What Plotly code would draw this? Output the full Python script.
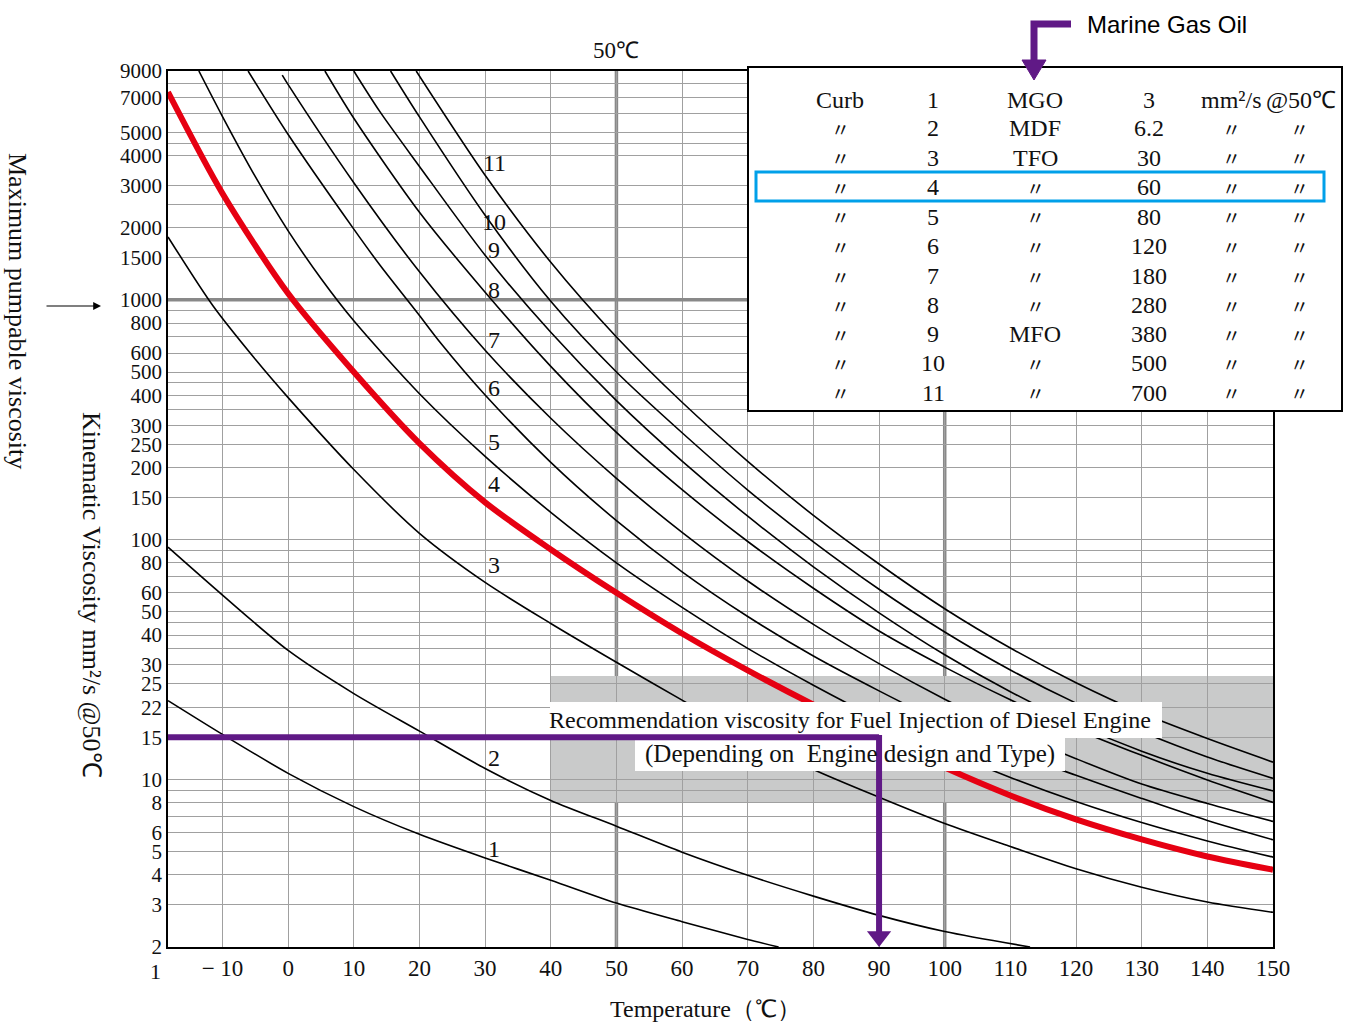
import plotly.graph_objects as go
import math

# ---------------- data ----------------
# temperature (deg C) / kinematic viscosity (mm2/s) pairs for each curve
curve1_t = [-18.3, -10, 0, 10, 20, 30, 40, 50, 60, 70, 74.7]
curve1_v = [21.3, 15.4, 10.6, 7.7, 5.9, 4.7, 3.8, 3.05, 2.55, 2.15, 2.0]

curve2_t = [-18.3, -10, 0, 10, 20, 30, 40, 50, 60, 70, 80, 90, 100, 113]
curve2_v = [93, 58.7, 34.5, 22.8, 15.9, 11.1, 8.17, 6.38, 4.97, 3.98, 3.26, 2.71, 2.32, 2.0]

curve3_t = [-18.3, -11.4, -5, 0, 10, 20, 30, 40, 50, 60, 70, 80, 90, 100, 110,
            120, 130, 140, 150]
curve3_v = [1830, 940, 565, 391, 196, 106.2, 66.3, 44.7, 30.8, 21.4, 15, 11, 8.43,
            6.55, 5.25, 4.24, 3.55, 3.08, 2.79]

curve4_t = [-18.3, -10, 0, 10, 20, 30, 40, 50, 60, 70, 80, 90, 100, 110, 120, 130, 140, 150]
curve4_v = [7350, 2776, 1062, 500, 252, 143, 91, 60, 40.6, 28.5, 20.5, 15.1, 11.2, 8.57,
            6.81, 5.62, 4.77, 4.2]

curve5_t = [-13.6, -10, -5, 0, 5, 10, 20, 30, 40, 50, 60, 70, 80, 90, 100, 110, 120, 130,
            140, 150]
curve5_v = [9000, 5810, 3262, 1940, 1227, 817, 406, 222.4, 129.9, 80, 52.2, 35.2, 24.7, 17.8,
            13.2, 10.19, 8.09, 6.61, 5.54, 4.74]

curve6_t = [-6.1, 0, 10, 14, 20, 23.1, 30, 40, 50, 60, 70, 80, 90, 100, 110, 120, 130, 140, 150]
curve6_v = [9000, 4890, 1971, 1393, 860, 667, 401, 210, 120, 73.4, 47.8, 32.7, 23.4, 17.1,
            13.1, 10.4, 8.33, 6.74, 5.6]

curve7_t = [-0.9, 0, 10, 20, 30, 40, 50, 60, 70, 80, 90, 100, 110, 120, 130, 140, 150]
curve7_v = [8650, 7894, 3078, 1308, 616, 320.6, 180, 107.2, 67.2, 44.3, 30.4, 21.6, 15.9,
            12.2, 9.56, 7.94, 6.68]

curve8_t = [5.6, 10, 20, 30, 40, 50, 60, 70, 80, 90, 100, 110, 120, 130, 140, 150]
curve8_v = [9000, 5720, 2319, 1076, 528, 280, 161.6, 98.2, 62.7, 41.6, 29.4, 21.5, 16.2, 12.6,
            9.95, 8.02]

curve9_t = [10, 14, 20, 30, 40, 50, 60, 70, 80, 90, 100, 110, 120, 130, 140, 150]
curve9_v = [9000, 6076, 3600, 1534, 732, 380, 212.6, 125.2, 77, 49.5, 33.1, 23.2, 17.0, 13.1,
            10.6, 8.95]

curve10_t = [15.6, 20, 30, 40, 50, 60, 70, 80, 90, 100, 110, 120, 130, 140, 150]
curve10_v = [9000, 5792, 2252, 986, 500, 279, 161, 97.9, 62.1, 41.2, 28.6, 20.8, 15.8, 12.4,
             10.1]

curve11_t = [19.5, 30, 40, 50, 60, 70, 80, 90, 100, 110, 120, 130, 140, 150]
curve11_v = [9000, 3309, 1434, 700, 373.8, 212, 126.2, 79.1, 51.5, 35.3, 25.3, 18.9, 14.8, 11.8]

# curve number labels (placed at about 31 deg C)
curve_label_names = ["1", "2", "3", "4", "5", "6", "7", "8", "9", "10", "11"]
curve_label_t = 31.4
curve_label_v = [5.15, 12.3, 78, 170, 255, 428, 678, 1096, 1610, 2107, 3712]

# legend table
table_curve_no = ["1", "2", "3", "4", "5", "6", "7", "8", "9", "10", "11"]
table_fuel = ["MGO", "MDF", "TFO", "〃", "〃", "〃", "〃", "〃", "MFO", "〃", "〃"]
table_visc50 = ["3", "6.2", "30", "60", "80", "120", "180", "280", "380", "500", "700"]

# axis ticks
x_ticks = [-10, 0, 10, 20, 30, 40, 50, 60, 70, 80, 90, 100, 110, 120, 130, 140, 150]
x_ticktext = ["− 10"] + [str(v) for v in x_ticks[1:]]
y_grid = [2, 3, 4, 5, 6, 7, 8, 9, 10, 15, 20, 25, 30, 35, 40, 45, 50, 60, 70, 80, 90, 100,
          150, 200, 250, 300, 350, 400, 450, 500, 600, 700, 800, 900, 1000, 1500, 2000, 2500,
          3000, 4000, 4500, 5000, 6000, 7000, 8000, 9000]
y_labels = {2: "2", 3: "3", 4: "4", 5: "5", 6: "6", 8: "8", 10: "10", 15: "15", 20: "22",
            25: "25", 30: "30", 40: "40", 50: "50", 60: "60", 80: "80", 100: "100",
            150: "150", 200: "200", 250: "250", 300: "300", 400: "400", 500: "500",
            600: "600", 800: "800", 1000: "1000", 1500: "1500", 2000: "2000", 3000: "3000",
            4000: "4000", 5000: "5000", 7000: "7000", 9000: "9000"}

# reference values
max_pumpable = 1000
recommended_visc = 15
injection_temp = 90
rec_band_low, rec_band_high = 8, 27
rec_band_t0, rec_band_t1 = 40, 150
x_min, x_max = -18.3, 150
y_min, y_max = 2, 9000

# ---------------- layout helpers ----------------
W, H = 1348, 1025
ML, MR, MT, MB = 168, 75, 71, 78
PW, PH = W - ML - MR, H - MT - MB


def pxx(xp):
    return (xp - ML) / PW


def pxy(yp):
    return (H - MB - yp) / PH


SERIF = "Liberation Serif, Times New Roman, serif"
SANS = "Liberation Sans, Arial, sans-serif"
PURPLE = "#601986"
RED = "#e60012"
BLUE = "#00a0e9"
TXT = "#111111"

fig = go.Figure()

black_curves = [(curve1_t, curve1_v), (curve2_t, curve2_v), (curve3_t, curve3_v),
                (curve5_t, curve5_v), (curve6_t, curve6_v), (curve7_t, curve7_v),
                (curve8_t, curve8_v), (curve9_t, curve9_v), (curve10_t, curve10_v),
                (curve11_t, curve11_v)]
for t, v in black_curves:
    fig.add_trace(go.Scatter(x=t, y=v, mode="lines",
                             line=dict(color="black", width=1.6, shape="spline", smoothing=0.8),
                             hoverinfo="skip", showlegend=False))
fig.add_trace(go.Scatter(x=curve4_t, y=curve4_v, mode="lines",
                         line=dict(color=RED, width=6, shape="spline", smoothing=0.8),
                         hoverinfo="skip", showlegend=False))
# arrow head of recommended-temperature line
fig.add_trace(go.Scatter(x=[injection_temp], y=[2.21], mode="markers",
                         marker=dict(symbol="triangle-down", size=21, color=PURPLE),
                         cliponaxis=False, hoverinfo="skip", showlegend=False))

shapes = []
# recommendation band
shapes.append(dict(type="rect", xref="x", yref="y", x0=rec_band_t0, x1=rec_band_t1,
                   y0=rec_band_low, y1=rec_band_high, fillcolor="#c9caca",
                   line=dict(width=0), layer="below"))
# thick reference lines
for tx in (50, 100):
    shapes.append(dict(type="line", xref="x", yref="paper", x0=tx, x1=tx, y0=0, y1=1,
                       line=dict(color="#898989", width=3.5), layer="between"))
shapes.append(dict(type="line", xref="x", yref="y", x0=x_min, x1=x_max, y0=max_pumpable,
                   y1=max_pumpable, line=dict(color="#898989", width=3.5), layer="between"))
# white boxes behind recommendation text
shapes.append(dict(type="rect", xref="paper", yref="paper", x0=pxx(550), x1=pxx(1162),
                   y0=pxy(738), y1=pxy(702), fillcolor="white", line=dict(width=0),
                   layer="above"))
shapes.append(dict(type="rect", xref="paper", yref="paper", x0=pxx(635), x1=pxx(1065),
                   y0=pxy(771), y1=pxy(738), fillcolor="white", line=dict(width=0),
                   layer="above"))
# purple recommendation lines
shapes.append(dict(type="line", xref="x", yref="y", x0=x_min, x1=injection_temp,
                   y0=recommended_visc, y1=recommended_visc,
                   line=dict(color=PURPLE, width=6), layer="above"))
shapes.append(dict(type="line", xref="x", yref="y", x0=injection_temp, x1=injection_temp,
                   y0=recommended_visc * 1.02, y1=2.3,
                   line=dict(color=PURPLE, width=6), layer="above"))
# legend table box
shapes.append(dict(type="rect", xref="paper", yref="paper", x0=pxx(748), x1=pxx(1342),
                   y0=pxy(411), y1=pxy(67), fillcolor="white",
                   line=dict(color="black", width=2), layer="above"))
shapes.append(dict(type="rect", xref="paper", yref="paper", x0=pxx(756), x1=pxx(1324),
                   y0=pxy(201), y1=pxy(172), fillcolor="rgba(0,0,0,0)",
                   line=dict(color=BLUE, width=3), layer="above"))
# Marine Gas Oil arrow
shapes.append(dict(type="path", xref="paper", yref="paper",
                   path=f"M {pxx(1071)} {pxy(24)} L {pxx(1034)} {pxy(24)} L {pxx(1034)} {pxy(63)}",
                   line=dict(color=PURPLE, width=7), layer="above"))
shapes.append(dict(type="path", xref="paper", yref="paper",
                   path=f"M {pxx(1022)} {pxy(60)} L {pxx(1046)} {pxy(60)} L {pxx(1034)} {pxy(80)} Z",
                   fillcolor=PURPLE, line=dict(color=PURPLE, width=1), layer="above"))

ann = []


def note(x, y, text, font, xref="paper", yref="paper", xanchor="center", yanchor="middle",
         **kw):
    ann.append(dict(x=x, y=y, xref=xref, yref=yref, text=text, font=font, showarrow=False,
                    xanchor=xanchor, yanchor=yanchor, **kw))


# curve labels
for name, v in zip(curve_label_names, curve_label_v):
    note(curve_label_t, math.log10(v), name, dict(family=SERIF, size=24, color=TXT),
         xref="x", yref="y")
# 50 C label on top
note(50, pxy(50), "50℃", dict(family=SERIF, size=23, color=TXT), xref="x")
# extra "1" below the y axis
note(pxx(163), pxy(972), "1", dict(family=SERIF, size=22, color=TXT), xanchor="right")
# recommendation text
note(pxx(850), pxy(720), "Recommendation viscosity for Fuel Injection of Diesel Engine",
     dict(family=SERIF, size=24, color=TXT))
note(pxx(850), pxy(754), "(Depending on  Engine design and Type)",
     dict(family=SERIF, size=25, color=TXT))
# axis titles
note(pxx(705), pxy(1009), "Temperature（℃）", dict(family=SERIF, size=24, color=TXT))
note(pxx(92), pxy(595), "Kinematic Viscosity mm²/s @50℃", dict(family=SERIF, size=26, color=TXT),
     textangle=90)
note(pxx(18), pxy(311), "Maximum pumpable viscosity", dict(family=SERIF, size=26, color=TXT),
     textangle=90)
ann.append(dict(x=pxx(101), y=pxy(306), xref="paper", yref="paper", text="",
                ax=-56, ay=0, showarrow=True, arrowhead=2, arrowsize=1.3, arrowwidth=1.2,
                arrowcolor="black"))
# Marine Gas Oil
note(pxx(1085), pxy(24), "Marine Gas Oil", dict(family=SANS, size=24, color="black"),
     xanchor="left")
# legend table text
row_y = [100, 128.5, 157.5, 187.5, 216.5, 246.5, 276, 305, 334, 363.5, 393]
col_x = {"curb": 840, "no": 933, "fuel": 1035, "visc": 1149, "u1": 1231, "u2": 1299}
TF = dict(family=SERIF, size=24, color=TXT)
DF = dict(family="Noto Sans CJK JP, sans-serif", size=19, color=TXT)
for i, yrow in enumerate(row_y):
    yy = pxy(yrow)
    if i == 0:
        note(pxx(col_x["curb"]), yy, "Curb", TF)
        note(pxx(col_x["u1"]), yy, "mm²/s", TF)
        note(pxx(col_x["u2"] + 2), yy, "@50℃", TF)
    else:
        for key in ("curb", "u1", "u2"):
            note(pxx(col_x[key]), yy, "〃", DF)
    note(pxx(col_x["no"]), yy, table_curve_no[i], TF)
    fuel = table_fuel[i]
    note(pxx(col_x["fuel"]), yy, fuel, DF if fuel == "〃" else TF)
    note(pxx(col_x["visc"]), yy, table_visc50[i], TF)

fig.update_layout(
    width=W, height=H,
    margin=dict(l=ML, r=MR, t=MT, b=MB, pad=0),
    paper_bgcolor="white", plot_bgcolor="white",
    shapes=shapes, annotations=ann, showlegend=False,
    xaxis=dict(range=[x_min, x_max], tickvals=x_ticks, ticktext=x_ticktext,
               showgrid=True, gridcolor="#a0a0a0", gridwidth=1, zeroline=False,
               showline=True, linecolor="black", linewidth=1.5, mirror=True,
               ticks="", tickfont=dict(family=SERIF, size=23, color=TXT)),
    yaxis=dict(type="log", range=[math.log10(y_min), math.log10(y_max)],
               tickvals=y_grid, ticktext=[y_labels.get(v, "") for v in y_grid],
               showgrid=True, gridcolor="#a0a0a0", gridwidth=1, zeroline=False,
               showline=True, linecolor="black", linewidth=1.5, mirror=True,
               ticks="", tickfont=dict(family=SERIF, size=21, color=TXT)),
)

fig.write_html("out.html", config={"displayModeBar": False},
               post_script="document.body.style.margin='0px';")
